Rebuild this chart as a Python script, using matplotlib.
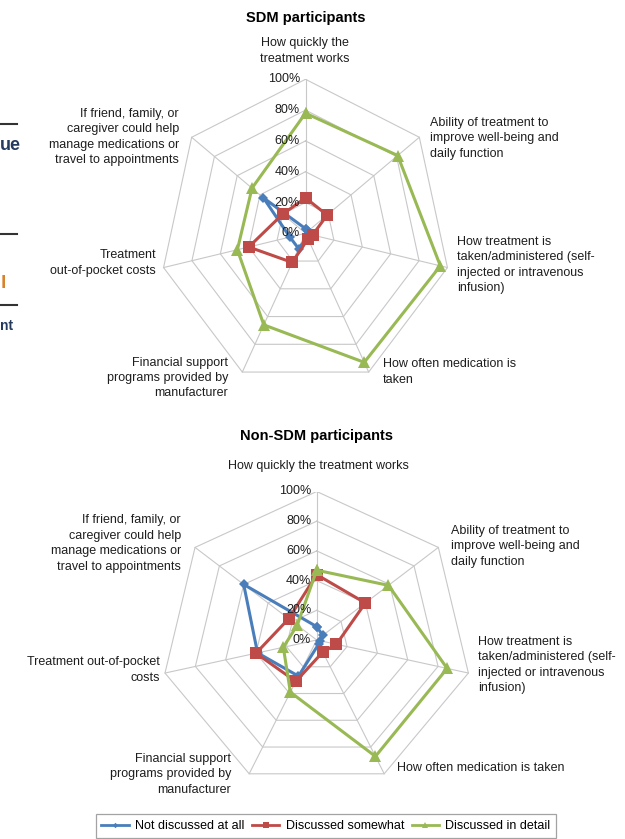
import numpy as np
import matplotlib
matplotlib.use("Agg")
import matplotlib.pyplot as plt
from matplotlib.lines import Line2D

plt.rcParams['font.family'] = ['Liberation Sans', 'DejaVu Sans']

W, H = 625, 839

# Attributes, clockwise from the top spoke
attributes = [
    "How quickly the treatment works",
    "Ability of treatment to improve well-being and daily function",
    "How treatment is taken/administered (self-injected or intravenous infusion)",
    "How often medication is taken",
    "Financial support programs provided by manufacturer",
    "Treatment out-of-pocket costs",
    "If friend, family, or caregiver could help manage medications or travel to appointments",
]
series_names = ["Not discussed at all", "Discussed somewhat", "Discussed in detail"]

# Percent of respondents per attribute
sdm_not = [3, 2, 2, 3, 11, 11, 37]
sdm_somewhat = [23, 19, 5, 4, 21, 40, 20]
sdm_detail = [78, 81, 95, 93, 66, 48, 47]

non_not = [9, 5, 2, 3, 27, 39, 60]
non_somewhat = [44, 40, 13, 9, 31, 40, 23]
non_detail = [47, 59, 86, 87, 39, 22, 16]

tick_values = [0, 20, 40, 60, 80, 100]
tick_labels = ["0%", "20%", "40%", "60%", "80%", "100%"]

colors = ["#4a7ebb", "#be4b48", "#98b954"]
markers = ["D", "s", "^"]
msizes = [5, 8.5, 8.5]
grid_color = "#c8c8c8"
text_color = "#1e1e1e"

fig = plt.figure(figsize=(W / 100, H / 100), dpi=100)


def px(x, y):
    return x / W, 1 - y / H


def add_radar(cx, cy, rx, ry, title, title_y, series, labels):
    ax = fig.add_axes([(cx - rx) / W, 1 - (cy + ry) / H, 2 * rx / W, 2 * ry / H])
    ax.set_xlim(-100, 100)
    ax.set_ylim(-100, 100)
    ax.axis("off")
    n = len(attributes)
    theta = np.arange(n) * 2 * np.pi / n
    ring = np.append(theta, theta[0])
    for lev in tick_values[1:]:
        ax.plot(lev * np.sin(ring), lev * np.cos(ring), color=grid_color, lw=0.8, zorder=1)
    for t in theta:
        ax.plot([0, 100 * np.sin(t)], [0, 100 * np.cos(t)], color=grid_color, lw=0.8, zorder=1)
    for vals, c, m, ms in zip(series, colors, markers, msizes):
        v = np.append(vals, vals[0])
        ax.plot(v * np.sin(ring), v * np.cos(ring), color=c, lw=2.2, marker=m,
                markersize=ms, markeredgewidth=0, zorder=3)
    for tv, tl in zip(tick_values, tick_labels):
        ax.annotate(tl, xy=(0, tv), xytext=(-4, 0), textcoords="offset points",
                    ha="right", va="center", fontsize=9, color=text_color, zorder=4)
    fig.text(*px(cx, title_y), title, ha="center", va="center", fontsize=10.5,
             fontweight="bold", color="black")
    for (x, y, txt, ha) in labels:
        fig.text(*px(x, y), txt, ha=ha, va="center", fontsize=9, color=text_color,
                 linespacing=1.38)
    return ax


top_labels = [
    (305, 51, "How quickly the\ntreatment works", "center"),
    (430, 138.5, "Ability of treatment to\nimprove well-being and\ndaily function", "left"),
    (457, 265, "How treatment is\ntaken/administered (self-\ninjected or intravenous\ninfusion)", "left"),
    (383, 372, "How often medication is\ntaken", "left"),
    (228, 378, "Financial support\nprograms provided by\nmanufacturer", "right"),
    (156, 263, "Treatment\nout-of-pocket costs", "right"),
    (179, 137, "If friend, family, or\ncaregiver could help\nmanage medications or\ntravel to appointments", "right"),
]
bottom_labels = [
    (318, 466, "How quickly the treatment works", "center"),
    (451, 546.5, "Ability of treatment to\nimprove well-being and\ndaily function", "left"),
    (478, 665, "How treatment is\ntaken/administered (self-\ninjected or intravenous\ninfusion)", "left"),
    (397, 768, "How often medication is taken", "left"),
    (231, 774.5, "Financial support\nprograms provided by\nmanufacturer", "right"),
    (160, 670, "Treatment out-of-pocket\ncosts", "right"),
    (181, 543.5, "If friend, family, or\ncaregiver could help\nmanage medications or\ntravel to appointments", "right"),
]

add_radar(305.5, 233.3, 145.6, 154.0, "SDM participants", 18,
          [sdm_not, sdm_somewhat, sdm_detail], top_labels)
add_radar(316.7, 640.0, 155.6, 148.5, "Non-SDM participants", 436,
          [non_not, non_somewhat, non_detail], bottom_labels)

handles = [Line2D([], [], color=c, lw=2, marker=m, markersize=ms * 0.55, markeredgewidth=0)
           for c, m, ms in zip(colors, markers, msizes)]
leg = fig.legend(handles, series_names, loc="center", bbox_to_anchor=px(326, 826),
                 ncol=3, fontsize=9, frameon=True, fancybox=False, handlelength=2.2,
                 handletextpad=0.5, columnspacing=0.6, borderpad=0.45)
leg.get_frame().set_edgecolor("#8c8c8c")
leg.get_frame().set_linewidth(0.9)

# Edge of the neighbouring panel
for y in (124, 234, 305):
    fig.add_artist(Line2D([0, 17 / W], [1 - y / H, 1 - y / H], color="#333333", lw=1.5))
fig.text(*px(0, 146), "ue", ha="left", va="center", fontsize=13, fontweight="bold",
         color="#243a5e")
fig.text(*px(1, 284), "l", ha="left", va="center", fontsize=14, fontweight="bold",
         color="#d9822b")
fig.text(*px(0, 326), "nt", ha="left", va="center", fontsize=10, fontweight="bold",
         color="#243a5e")

fig.savefig("out.png", dpi=100)
